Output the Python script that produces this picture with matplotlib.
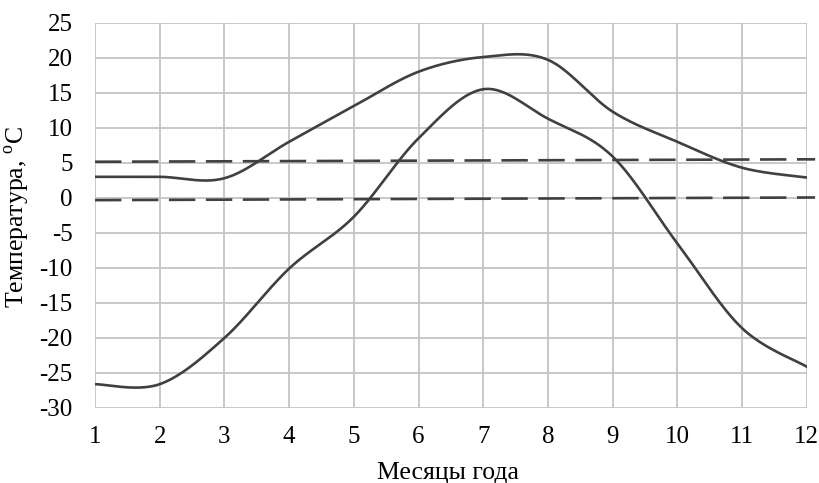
import numpy as np
import matplotlib.pyplot as plt

plt.rcParams['font.family'] = ['Liberation Serif', 'DejaVu Serif']
plt.rcParams['mathtext.fontset'] = 'custom'
plt.rcParams['mathtext.rm'] = 'Liberation Serif'
plt.rcParams['axes.unicode_minus'] = False

months = [1, 2, 3, 4, 5, 6, 7, 8, 9, 10, 11, 12]
t_max = [3.0, 3.0, 2.8, 8.0, 13.1, 18.0, 20.1, 19.7, 12.3, 8.0, 4.3, 2.9]
t_min = [-26.6, -26.6, -20.0, -10.1, -2.7, 8.5, 15.5, 11.3, 5.9, -6.5, -18.6, -24.1]

# threshold lines (slightly tilted in the source)
thr_x = [1, 12.13]
thr5_y = [5.15, 5.5]
thr0_y = [-0.33, 0.05]


def smooth(x, y, n=30):
    # Excel-like smoothed line: Bezier segments with Catmull-Rom control points
    x = np.asarray(x, float)
    y = np.asarray(y, float)
    px = np.concatenate([[x[0]], x, [x[-1]]])
    py = np.concatenate([[y[0]], y, [y[-1]]])
    xs, ys = [], []
    t = np.linspace(0, 1, n)
    for i in range(1, len(px) - 2):
        p0 = np.array([px[i], py[i]])
        p3 = np.array([px[i + 1], py[i + 1]])
        p1 = p0 + (np.array([px[i + 1], py[i + 1]]) - np.array([px[i - 1], py[i - 1]])) / 6
        p2 = p3 - (np.array([px[i + 2], py[i + 2]]) - np.array([px[i], py[i]])) / 6
        b = ((1 - t) ** 3)[:, None] * p0 + (3 * (1 - t) ** 2 * t)[:, None] * p1 \
            + (3 * (1 - t) * t ** 2)[:, None] * p2 + (t ** 3)[:, None] * p3
        xs.extend(b[:, 0])
        ys.extend(b[:, 1])
    return xs, ys


fig = plt.figure(figsize=(8.2, 4.83), dpi=100)
ax = fig.add_axes([0.1159, 0.1553, 0.8679, 0.7977])

line_color = '#404040'
sx, sy = smooth(months, t_max)
ax.plot(sx, sy, color=line_color, lw=1.9, zorder=3)
sx, sy = smooth(months, t_min)
ax.plot(sx, sy, color=line_color, lw=1.9, zorder=3)

ax.plot(thr_x, thr5_y, color=line_color, lw=1.9, dashes=(10, 4), clip_on=False, zorder=3)
ax.plot(thr_x, thr0_y, color=line_color, lw=1.9, dashes=(10, 4), clip_on=False, zorder=3)

ax.set_xlim(1, 12)
ax.set_ylim(-30, 25)
ax.set_xticks(months)
ax.set_yticks(np.arange(-30, 26, 5))
ax.grid(True, color='#c4c4c4', lw=1.3)
for s in ax.spines.values():
    s.set_visible(False)
ax.tick_params(length=0, labelsize=18, colors='black')
ax.tick_params(axis='x', pad=13)
ax.tick_params(axis='y', pad=16)

ax.set_xlabel('Месяцы года', fontsize=18.5)
ax.set_ylabel('Температура, $^{\\mathregular{o}}$C', fontsize=18.5)
ax.xaxis.set_label_coords(0.496, -0.14)
ax.yaxis.set_label_coords(-0.088, 0.495)

fig.savefig('out.png', dpi=100)
